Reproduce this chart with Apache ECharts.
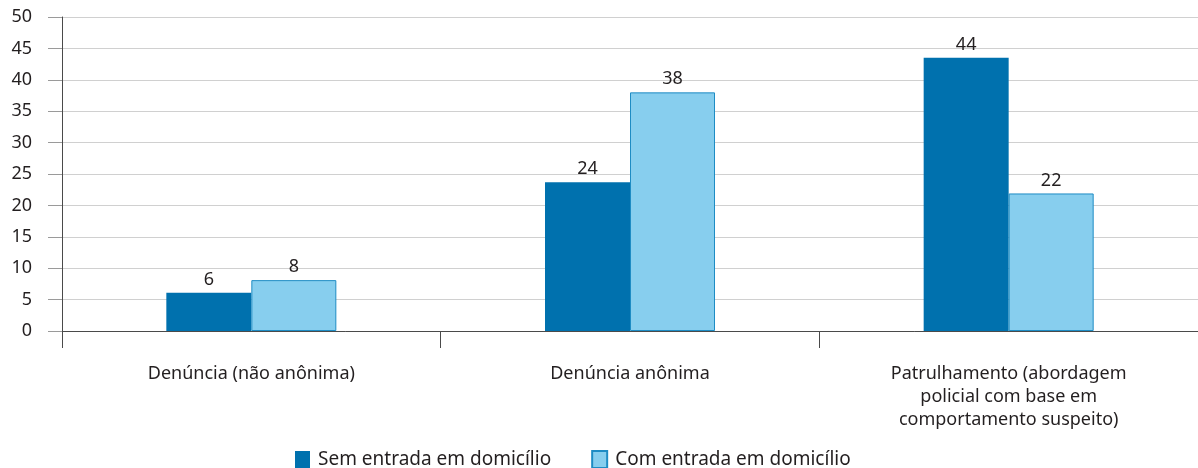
<!DOCTYPE html>
<html>
<head>
<meta charset="utf-8">
<script src="https://cdn.jsdelivr.net/npm/echarts@6/dist/echarts.min.js"></script>
<style>
  html, body { margin: 0; padding: 0; background: #fff; }
  #chart { width: 1198px; height: 468px; }
</style>
</head>
<body>
<div id="chart"></div>
<script>
const categories = [
  'Denúncia (não anônima)',
  'Denúncia anônima',
  'Patrulhamento (abordagem\npolicial com base em\ncomportamento suspeito)'
]
const seriesNames = ['Sem entrada em domicílio', 'Com entrada em domicílio']
const semEntrada = [6.1, 23.7, 43.5]
const comEntrada = [8.1, 38, 21.9]
const yTicks = [0, 5, 10, 15, 20, 25, 30, 35, 40, 45, 50]

const FONT = '"Noto Sans", sans-serif'
const TEXT = '#231f20'

const chart = echarts.init(document.getElementById('chart'), null, { renderer: 'canvas' })

const labelStyle = {
  show: true,
  position: 'top',
  distance: 4,
  color: TEXT,
  fontFamily: FONT,
  fontSize: 18,
  formatter: p => Math.round(p.value)
}

chart.setOption({
  animation: false,
  textStyle: { fontFamily: FONT },
  grid: { left: 62, top: 17, width: 1140, height: 314, containLabel: false },
  legend: {
    top: 450,
    left: 295,
    padding: 0,
    itemWidth: 15,
    itemHeight: 17,
    itemGap: 40,
    icon: 'rect',
    textStyle: { color: TEXT, fontSize: 19, fontFamily: FONT, padding: [0, 0, 0, 3] },
    data: seriesNames
  },
  xAxis: {
    type: 'category',
    data: categories,
    axisLine: { show: true, lineStyle: { color: '#4a4a4a', width: 1 } },
    axisTick: { show: true, length: 17, alignWithLabel: false, lineStyle: { color: '#4a4a4a' } },
    axisLabel: {
      color: TEXT,
      fontSize: 18,
      fontFamily: FONT,
      margin: 31,
      lineHeight: 23,
      interval: 0
    }
  },
  yAxis: {
    type: 'value',
    min: 0,
    max: 50,
    interval: 5,
    axisLine: { show: true, lineStyle: { color: '#4a4a4a', width: 1 } },
    axisTick: { show: true, length: 14, lineStyle: { color: '#9a9a9a' } },
    axisLabel: {
      color: TEXT,
      fontSize: 18,
      fontFamily: FONT,
      margin: 30,
      formatter: v => (yTicks.includes(v) ? String(v) : '')
    },
    splitLine: { show: true, lineStyle: { color: '#d0d0d0', width: 1 } }
  },
  series: [
    {
      name: seriesNames[0],
      type: 'bar',
      data: semEntrada,
      barWidth: 85,
      barGap: '0%',
      itemStyle: { color: '#0071ae' },
      label: labelStyle
    },
    {
      name: seriesNames[1],
      type: 'bar',
      data: comEntrada,
      barWidth: 85,
      barGap: '0%',
      itemStyle: { color: '#87ceee', borderColor: '#1e8cc4', borderWidth: 1 },
      label: labelStyle
    }
  ]
})
</script>
</body>
</html>
